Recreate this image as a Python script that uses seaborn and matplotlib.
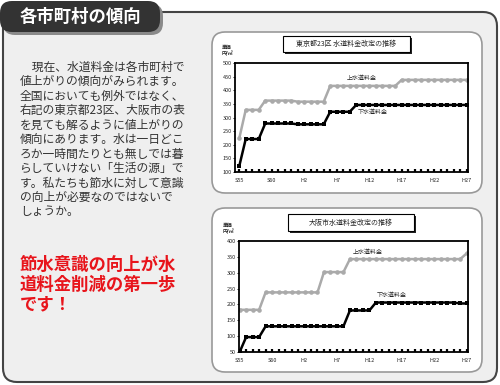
import numpy as np
import pandas as pd
import seaborn as sns
import matplotlib.pyplot as plt
from matplotlib.patches import FancyBboxPatch, Rectangle

sns.set_theme(style="white")
plt.rcParams['font.family'] = ['Noto Sans CJK JP', 'DejaVu Sans']

# S55 (1980) .. H27 (2015)
years = list(range(1980, 2016))
tick_years = [1980, 1985, 1990, 1995, 2000, 2005, 2010, 2015]
tick_labels = ['S55', 'S60', 'H2', 'H7', 'H12', 'H17', 'H22', 'H27']

tokyo_water = [223, 328, 328, 328, 362, 362, 362, 362, 362, 358, 358, 358,
               358, 358, 416, 416, 416, 416, 416, 416, 416, 416, 416, 416,
               416, 438, 438, 438, 438, 438, 438, 438, 438, 438, 438, 438]
tokyo_sewer = [121, 221, 221, 221, 278, 278, 278, 278, 278, 275, 275, 275,
               275, 275, 321, 321, 321, 321, 346, 346, 346, 346, 346, 346,
               346, 346, 346, 346, 346, 346, 346, 346, 346, 346, 346, 346]
osaka_water = [183, 183, 183, 183, 238, 238, 238, 238, 238, 238, 238, 238,
               238, 302, 302, 302, 302, 343, 343, 343, 343, 343, 343, 343,
               343, 343, 343, 343, 343, 343, 343, 343, 343, 343, 343, 361]
osaka_sewer = [50, 97, 97, 97, 131, 131, 131, 131, 131, 131, 131, 131,
               131, 131, 131, 131, 131, 181, 181, 181, 181, 206, 206, 206,
               206, 206, 206, 206, 206, 206, 206, 206, 206, 206, 203, 203]

body_lines = [
    '\u3000現在、水道料金は各市町村で',
    '値上がりの傾向がみられます。',
    '全国においても例外ではなく、',
    '右記の東京都23区、大阪市の表',
    'を見ても解るように値上がりの',
    '傾向にあります。水は一日どこ',
    'ろか一時間たりとも無しでは暮',
    'らしていけない「生活の源」で',
    'す。私たちも節水に対して意識',
    'の向上が必要なのではないで',
    'しょうか。',
]
red_lines = ['節水意識の向上が水', '道料金削減の第一歩', 'です！']

fig = plt.figure(figsize=(5.0, 3.85), dpi=100)
bg = fig.add_axes([0, 0, 1, 1])
bg.set_xlim(0, 500)
bg.set_ylim(385, 0)
bg.axis('off')

# main panel
bg.add_patch(FancyBboxPatch((3, 12), 494, 370, boxstyle="round,pad=0,rounding_size=14",
                            facecolor='#efefef', edgecolor='#444444', lw=1.5))
# title tab
bg.add_patch(FancyBboxPatch((3, 4), 160, 31, boxstyle="round,pad=0,rounding_size=12",
                            facecolor='#8a8a8a', edgecolor='none'))
bg.add_patch(FancyBboxPatch((0, 1), 160, 31, boxstyle="round,pad=0,rounding_size=12",
                            facecolor='#333333', edgecolor='none'))
bg.text(80, 17, '各市町村の傾向', color='white', fontsize=12.5, fontweight='bold',
        ha='center', va='center')

for i, line in enumerate(body_lines):
    bg.text(20, 67 + 14.5 * i, line, fontsize=8.5, color='#333333', va='center')
for i, line in enumerate(red_lines):
    bg.text(20, 265 + 19.5 * i, line, fontsize=12.5, color='#e8141b',
            fontweight='bold', va='center')

# chart boxes
for top, h in [(32, 161), (208, 164)]:
    bg.add_patch(FancyBboxPatch((212, top), 270, h, boxstyle="round,pad=0,rounding_size=13",
                                facecolor='white', edgecolor='#999999', lw=1.2))

# chart titles
for (x0, y0, w, h, t) in [(283, 36, 127, 16, '東京都23区 水道料金改定の推移'),
                          (288, 214, 126, 17, '大阪市水道料金改定の推移')]:
    bg.add_patch(Rectangle((x0 + 2, y0 + 2), w, h, facecolor='#222222', edgecolor='none'))
    bg.add_patch(Rectangle((x0, y0), w, h, facecolor='white', edgecolor='black', lw=0.8))
    bg.text(x0 + w / 2, y0 + h / 2, t, fontsize=5, ha='center', va='center')

for (x0, y0) in [(222, 47), (223, 225)]:
    bg.text(x0, y0, '単価', fontsize=3.5, fontweight='bold', va='center')
    bg.text(x0, y0 + 6, '円/㎥', fontsize=3.5, fontweight='bold', va='center')


def draw_chart(rect, water, sewer, ylim, yticks, xlim, wlabel, slabel):
    ax = fig.add_axes(rect)
    df = pd.DataFrame({'year': years, 'water': water, 'sewer': sewer})
    sns.lineplot(data=df, x='year', y='water', ax=ax, color='#aaaaaa', marker='o',
                 markersize=3.3, markeredgewidth=0, linewidth=1.8)
    sns.lineplot(data=df, x='year', y='sewer', ax=ax, color='black', marker='s',
                 markersize=2.6, markeredgewidth=0, linewidth=1.8)
    ax.set_xlim(*xlim)
    ax.set_ylim(*ylim)
    ax.set_xticks(tick_years)
    ax.set_xticklabels(tick_labels)
    ax.set_xticks(years, minor=True)
    ax.set_yticks(yticks)
    ax.set_xlabel('')
    ax.set_ylabel('')
    ax.tick_params(axis='x', which='both', direction='in', length=2, width=1.6,
                   color='black', labelsize=4, pad=4, bottom=True)
    ax.tick_params(axis='y', direction='out', length=1.5, width=0.6, color='black',
                   labelsize=4, pad=1, left=True)
    for s in ax.spines.values():
        s.set_color('black')
        s.set_linewidth(1.3)
    ax.text(wlabel[0], wlabel[1], '上水道料金', fontsize=4.3, va='center')
    ax.text(slabel[0], slabel[1], '下水道料金', fontsize=4.3, va='center')
    return ax


draw_chart([235 / 500, 1 - 172 / 385, 233 / 500, 109 / 385], tokyo_water, tokyo_sewer,
           (100, 500), [100, 150, 200, 250, 300, 350, 400, 450, 500], (1979.35, 2015.2),
           (1996.5, 445), (1998.2, 318))
draw_chart([239 / 500, 1 - 352 / 385, 229 / 500, 111 / 385], osaka_water, osaka_sewer,
           (50, 400), [50, 100, 150, 200, 250, 300, 350, 400], (1979.9, 2015.2),
           (1997.4, 365), (2001.1, 228))

fig.savefig('out.png', dpi=100)
